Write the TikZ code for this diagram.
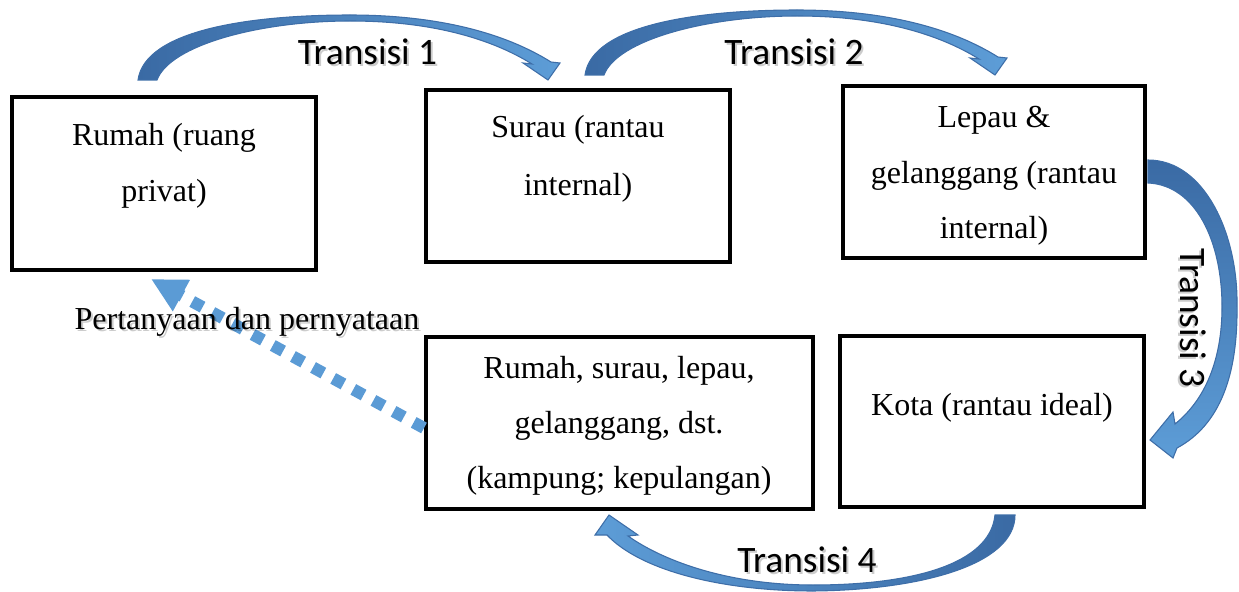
\documentclass[tikz,border=0pt]{standalone}
\usepackage{fontspec}
\setmainfont{Liberation Serif}
\newfontfamily\calibrifont{Carlito}
\usetikzlibrary{fit,arrows.meta}
\definecolor{arrdark}{RGB}{58,106,164}
\definecolor{arrlight}{RGB}{93,157,215}
\definecolor{arredge}{RGB}{62,110,168}
\definecolor{dotblue}{RGB}{91,155,213}
\begin{document}
\begin{tikzpicture}[x=0.375pt,y=-0.375pt,
  box/.style={draw=black,line width=1.15pt,inner sep=0pt},
  txt/.style={font=\fontsize{12}{14}\selectfont,anchor=base,inner sep=0pt},
  trans/.style={font=\calibrifont\fontsize{14}{16}\selectfont,inner sep=0pt},
  tshadow/.style={text=black,opacity=0.2},
  bentarrow/.style={draw=arredge,line width=0.4pt},
  dotline/.style={draw=dotblue,line width=4.5pt,dash pattern=on 4.4pt off 4.2pt,
    -{Triangle[width=12.5pt,length=13pt]}}
]
\useasboundingbox (0,0) rectangle (1239,592);

% curved block arrows
\shade[bentarrow,left color=arrdark,right color=arrlight]
  (138,80) .. controls (145,30) and (250,15) .. (350,15)
  .. controls (430,15) and (500,30) .. (551,62)
  -- (560,63) -- (548,80) -- (523,63) -- (532,64)
  .. controls (490,38) and (430,21) .. (350,21)
  .. controls (260,21) and (170,45) .. (157,80) -- cycle;
\begin{scope}[shift={(447,-5)}]
\shade[bentarrow,left color=arrdark,right color=arrlight]
  (138,80) .. controls (145,30) and (250,15) .. (350,15)
  .. controls (430,15) and (500,30) .. (551,62)
  -- (560,63) -- (548,80) -- (523,63) -- (532,64)
  .. controls (490,38) and (430,21) .. (350,21)
  .. controls (260,21) and (170,45) .. (157,80) -- cycle;
\end{scope}
\shade[bentarrow,top color=arrdark,bottom color=arrlight]
  (1148,160) .. controls (1205,160) and (1238,235) .. (1237,305)
  .. controls (1238,375) and (1220,425) .. (1177,448)
  -- (1173,458) -- (1150,440) -- (1173,412) -- (1175,424)
  .. controls (1205,400) and (1222,360) .. (1222,307)
  .. controls (1222,240) and (1195,185) .. (1148,183) -- cycle;
\shade[bentarrow,left color=arrlight,right color=arrdark]
  (1015,515) .. controls (1015,565) and (920,590) .. (813,591)
  .. controls (720,591) and (640,570) .. (607,535)
  -- (595,535) -- (609,515) -- (638,535) -- (628,536)
  .. controls (665,562) and (730,585) .. (813,585)
  .. controls (910,585) and (990,565) .. (995,515) -- cycle;

% boxes
\node[box,fit={(12,97) (316,270)}] (b1) {};
\node[box,fit={(426,90) (730,262)}] (b2) {};
\node[box,fit={(843,86) (1145,258)}] (b3) {};
\node[box,fit={(840,336) (1144,507)}] (b4) {};
\node[box,fit={(426,337) (813,509)}] (b5) {};

% dotted arrow
\coordinate (dstart) at (424,428);
\coordinate (dtip) at (151,279);
\draw[dotline] (dstart) -- (dtip);

% box texts
\node[txt] (l1a) at (164,145) {Rumah (ruang};
\node[txt] (l1b) at (164,202) {privat)};
\node[txt] (l2a) at (578,138) {Surau (rantau};
\node[txt] (l2b) at (578,196) {internal)};
\node[txt] (l3a) at (994,128) {Lepau \&};
\node[txt] (l3b) at (994,184) {gelanggang (rantau};
\node[txt] (l3c) at (994,239) {internal)};
\node[txt] (l4a) at (992,415) {Kota (rantau ideal)};
\node[txt] (l5a) at (619,378) {Rumah, surau, lepau,};
\node[txt] (l5b) at (619,433) {gelanggang, dst.};
\node[txt] (l5c) at (619,488) {(kampung; kepulangan)};

% question label with shadow
\node[txt,tshadow] (qs) at (249,331) {Pertanyaan dan pernyataan};
\node[txt] (q) at (247,329) {Pertanyaan dan pernyataan};

% transition labels with shadow
\node[trans,anchor=base,tshadow] (tr1s) at (369.5,67) {Transisi 1};
\node[trans,anchor=base] (tr1) at (367.5,65) {Transisi 1};
\node[trans,anchor=base,tshadow] (tr2s) at (796,67) {Transisi 2};
\node[trans,anchor=base] (tr2) at (794,65) {Transisi 2};
\node[trans,anchor=base,tshadow] (tr4s) at (809,574) {Transisi 4};
\node[trans,anchor=base] (tr4) at (807,572) {Transisi 4};
\node[trans,rotate=-90,tshadow] (tr3s) at (1191,320) {Transisi 3};
\node[trans,rotate=-90] (tr3) at (1193,318) {Transisi 3};
\end{tikzpicture}
\end{document}
